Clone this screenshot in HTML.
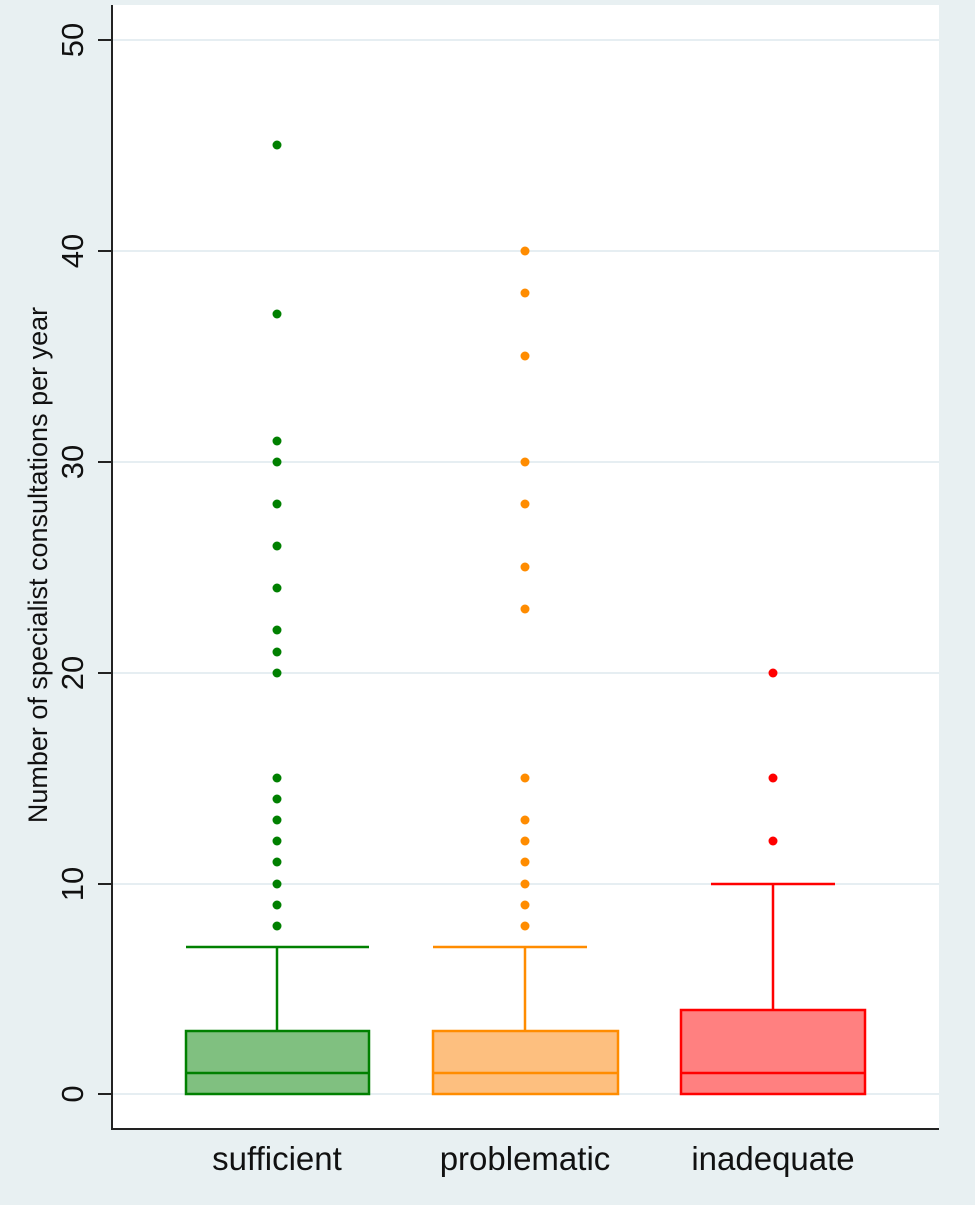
<!DOCTYPE html>
<html><head><style>body{margin:0;background:#e8f0f2}</style></head><body>
<svg width="975" height="1200" xmlns="http://www.w3.org/2000/svg" font-family="Liberation Sans, sans-serif">
<rect width="975" height="1200" fill="#e8f0f2"/>
<rect x="112" y="5" width="827" height="1124" fill="#fff"/>
<g stroke="#e6eef2" stroke-width="2">
<line x1="112" x2="939" y1="1094" y2="1094"/><line x1="112" x2="939" y1="884" y2="884"/>
<line x1="112" x2="939" y1="673" y2="673"/><line x1="112" x2="939" y1="462" y2="462"/>
<line x1="112" x2="939" y1="251" y2="251"/><line x1="112" x2="939" y1="40" y2="40"/>
</g>
<g stroke="#222" stroke-width="2">
<line x1="112" y1="5" x2="112" y2="1130"/><line x1="111" y1="1129" x2="939" y2="1129"/>
<line x1="98" x2="112" y1="1094" y2="1094"/><line x1="98" x2="112" y1="884" y2="884"/>
<line x1="98" x2="112" y1="673" y2="673"/><line x1="98" x2="112" y1="462" y2="462"/>
<line x1="98" x2="112" y1="251" y2="251"/><line x1="98" x2="112" y1="40" y2="40"/>
</g>
<g font-size="31" fill="#111" text-anchor="middle">
<text transform="translate(83,1094) rotate(-90)">0</text>
<text transform="translate(83,884) rotate(-90)">10</text>
<text transform="translate(83,673) rotate(-90)">20</text>
<text transform="translate(83,462) rotate(-90)">30</text>
<text transform="translate(83,251) rotate(-90)">40</text>
<text transform="translate(83,40) rotate(-90)">50</text>
<text font-size="27" transform="translate(47,565) rotate(-90)">Number of specialist consultations per year</text>
<text x="277" y="1170" font-size="33">sufficient</text>
<text x="525" y="1170" font-size="33">problematic</text>
<text x="773" y="1170" font-size="33">inadequate</text>
</g>
<g stroke-width="2.5">
<g stroke="#008000" fill="#008000">
<line x1="277" y1="947" x2="277" y2="1031"/><line x1="186" x2="369" y1="947" y2="947"/>
<rect x="186" y="1031" width="183" height="63" fill="#80c080"/><line x1="186" x2="369" y1="1073" y2="1073"/>
</g>
<g stroke="#ff8c00" fill="#ff8c00">
<line x1="525" y1="947" x2="525" y2="1031"/><line x1="433" x2="587" y1="947" y2="947"/>
<rect x="433" y="1031" width="185" height="63" fill="#fdbf7f"/><line x1="433" x2="618" y1="1073" y2="1073"/>
</g>
<g stroke="#ff0000" fill="#ff0000">
<line x1="773" y1="884" x2="773" y2="1010"/><line x1="711" x2="835" y1="884" y2="884"/>
<rect x="681" y="1010" width="184" height="84" fill="#ff8080"/><line x1="681" x2="865" y1="1073" y2="1073"/>
</g>
</g>
<g fill="#008000">
<circle cx="277" cy="145" r="4.5"/><circle cx="277" cy="314" r="4.5"/><circle cx="277" cy="441" r="4.5"/><circle cx="277" cy="462" r="4.5"/><circle cx="277" cy="504" r="4.5"/><circle cx="277" cy="546" r="4.5"/><circle cx="277" cy="588" r="4.5"/><circle cx="277" cy="630" r="4.5"/><circle cx="277" cy="652" r="4.5"/><circle cx="277" cy="673" r="4.5"/><circle cx="277" cy="778" r="4.5"/><circle cx="277" cy="799" r="4.5"/><circle cx="277" cy="820" r="4.5"/><circle cx="277" cy="841" r="4.5"/><circle cx="277" cy="862" r="4.5"/><circle cx="277" cy="884" r="4.5"/><circle cx="277" cy="905" r="4.5"/><circle cx="277" cy="926" r="4.5"/>
</g>
<g fill="#ff8c00">
<circle cx="525" cy="251" r="4.5"/><circle cx="525" cy="293" r="4.5"/><circle cx="525" cy="356" r="4.5"/><circle cx="525" cy="462" r="4.5"/><circle cx="525" cy="504" r="4.5"/><circle cx="525" cy="567" r="4.5"/><circle cx="525" cy="609" r="4.5"/><circle cx="525" cy="778" r="4.5"/><circle cx="525" cy="820" r="4.5"/><circle cx="525" cy="841" r="4.5"/><circle cx="525" cy="862" r="4.5"/><circle cx="525" cy="884" r="4.5"/><circle cx="525" cy="905" r="4.5"/><circle cx="525" cy="926" r="4.5"/>
</g>
<g fill="#ff0000">
<circle cx="773" cy="673" r="4.5"/><circle cx="773" cy="778" r="4.5"/><circle cx="773" cy="841" r="4.5"/>
</g>
</svg>
</body></html>
